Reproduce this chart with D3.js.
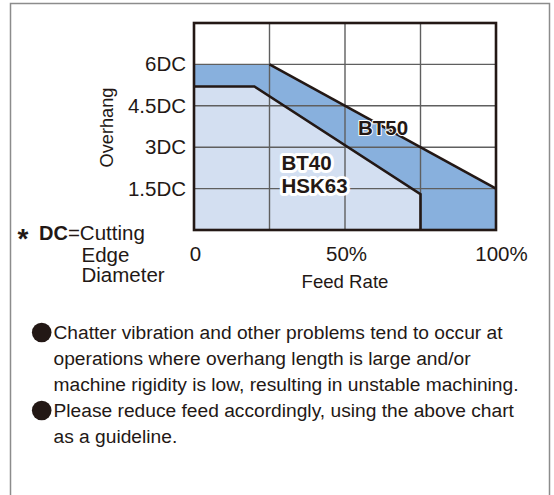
<!DOCTYPE html>
<html>
<head>
<meta charset="utf-8">
<script src="https://cdn.jsdelivr.net/npm/d3@7"></script>
<style>
  html, body { margin: 0; padding: 0; background: #fff; }
  svg { display: block; font-family: "Liberation Sans", Arial, Helvetica, sans-serif; }
</style>
</head>
<body>
<svg id="chart" width="554" height="495"></svg>
<script>
// Overhang limits (in multiples of cutting-edge diameter) against feed rate (%)
const bt50Feed = [0, 25, 100];
const bt50Overhang = [6, 6, 1.5];
const bt40Feed = [0, 20, 75];
const bt40Overhang = [5.2, 5.2, 1.3];

const xTicks = [0, 50, 100];
const xTickLabels = ["0", "50%", "100%"];
const xGrid = [25, 50, 75];
const yTicks = [1.5, 3, 4.5, 6];
const yTickLabels = ["1.5DC", "3DC", "4.5DC", "6DC"];

const notes = [
  ["Chatter vibration and other problems tend to occur at",
   "operations where overhang length is large and/or",
   "machine rigidity is low, resulting in unstable machining."],
  ["Please reduce feed accordingly, using the above chart",
   "as a guideline."]
];

const ink = "#231815";
const svg = d3.select("#chart");

// outer frame of the panel (runs off the bottom edge)
svg.append("rect")
  .attr("x", 10.5).attr("y", 3.5)
  .attr("width", 539).attr("height", 520)
  .attr("fill", "none").attr("stroke", "#8c8c8c").attr("stroke-width", 1.5);

const x = d3.scaleLinear().domain([0, 100]).range([194, 496]);
const y = d3.scaleLinear().domain([0, 7.5]).range([230, 23]);

const area = d3.area()
  .x(d => x(d[0])).y0(y(0)).y1(d => y(d[1]));
const line = d3.line().x(d => x(d[0])).y(d => y(d[1]));

const bt50 = d3.zip(bt50Feed, bt50Overhang);
const bt40 = d3.zip(bt40Feed, bt40Overhang);

svg.append("path").attr("d", area(bt50)).attr("fill", "#88b0dd");
svg.append("path").attr("d", area(bt40)).attr("fill", "#d3dff1");

// grid lines
const grid = svg.append("g").attr("stroke", "#5f5f5f").attr("stroke-width", 1.4);
grid.selectAll("line.v").data(xGrid).join("line")
  .attr("x1", d => x(d)).attr("x2", d => x(d))
  .attr("y1", y(7.5)).attr("y2", y(0));
grid.selectAll("line.h").data(yTicks).join("line")
  .attr("x1", x(0)).attr("x2", x(100))
  .attr("y1", d => y(d)).attr("y2", d => y(d));

// boundary outlines
svg.append("path")
  .attr("d", line(bt50.slice(1)))
  .attr("fill", "none").attr("stroke", ink).attr("stroke-width", 2.6);
svg.append("path")
  .attr("d", line(bt40.concat([[bt40Feed[bt40Feed.length - 1], 0]])))
  .attr("fill", "none").attr("stroke", ink).attr("stroke-width", 2.6)
  .attr("stroke-linejoin", "miter");

// plot frame
svg.append("rect")
  .attr("x", x(0)).attr("y", y(7.5))
  .attr("width", x(100) - x(0)).attr("height", y(0) - y(7.5))
  .attr("fill", "none").attr("stroke", ink).attr("stroke-width", 2.6);

// axes (tick text only)
const yAxis = d3.axisLeft(y).tickValues(yTicks)
  .tickFormat((d, i) => yTickLabels[i]).tickSize(0).tickPadding(8);
const gy = svg.append("g").attr("transform", `translate(${x(0)},0)`).call(yAxis);
gy.select(".domain").remove();
gy.selectAll("text").attr("font-size", 20.5).attr("fill", ink)
  .attr("font-family", "Liberation Sans, Arial, sans-serif");

const xAxis = d3.axisBottom(x).tickValues(xTicks)
  .tickFormat((d, i) => xTickLabels[i]).tickSize(0).tickPadding(16);
const gx = svg.append("g").attr("transform", `translate(0,${y(0)})`).call(xAxis);
gx.select(".domain").remove();
gx.selectAll("text").attr("font-size", 20.5).attr("fill", ink)
  .attr("font-family", "Liberation Sans, Arial, sans-serif")
  .attr("dx", (d, i) => i === xTicks.length - 1 ? 5 : 1);

// axis titles
svg.append("text")
  .attr("transform", "translate(112.5,127.5) rotate(-90)")
  .attr("text-anchor", "middle").attr("font-size", 18.2).attr("fill", ink)
  .text("Overhang");
svg.append("text")
  .attr("x", (x(0) + x(100)) / 2).attr("y", 288)
  .attr("text-anchor", "middle").attr("font-size", 18.6).attr("fill", ink)
  .text("Feed Rate");

// series labels
const lbl = svg.append("g").attr("font-weight", "bold").attr("font-size", 20.5)
  .attr("fill", ink).attr("stroke", "#fff").attr("paint-order", "stroke")
  .attr("stroke-linejoin", "round");
lbl.append("text").attr("x", 383).attr("y", 135).attr("text-anchor", "middle")
  .attr("stroke-width", 2).text("BT50");
lbl.append("text").attr("x", 281.5).attr("y", 169.5).attr("stroke-width", 6).text("BT40");
lbl.append("text").attr("x", 281.5).attr("y", 193).attr("stroke-width", 6).text("HSK63");

// DC footnote
const fn = svg.append("g").attr("fill", ink).attr("font-size", 20.5);
fn.append("text").attr("x", 17.5).attr("y", 248)
  .attr("font-weight", "bold").attr("font-size", 28).text("*");
const t1 = fn.append("text").attr("x", 39).attr("y", 239.5);
t1.append("tspan").attr("font-weight", "bold").attr("font-size", 20).text("DC");
t1.append("tspan").text("=Cutting");
fn.append("text").attr("x", 81.5).attr("y", 261.5).text("Edge");
fn.append("text").attr("x", 81.5).attr("y", 282).text("Diameter");

// notes below the chart
const lineH = 26;
let row = 0;
const notesG = svg.append("g").attr("fill", ink).attr("font-size", 19.2);
notes.forEach(par => {
  notesG.append("circle")
    .attr("cx", 41.7).attr("cy", 339 + row * lineH - 6.5).attr("r", 9.8);
  par.forEach(s => {
    notesG.append("text").attr("x", 53.5).attr("y", 339 + row * lineH).text(s);
    row++;
  });
});
</script>
</body>
</html>
